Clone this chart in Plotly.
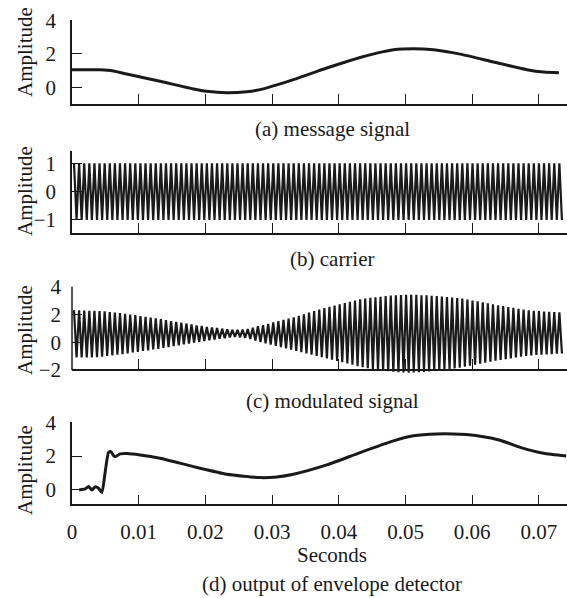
import plotly.graph_objects as go

# ---------------- data ----------------
# (a) message signal
msg_t = [0.0000, 0.0020, 0.0042, 0.0062, 0.0082, 0.0132, 0.0182, 0.0202, 0.0232, 0.0262,
         0.0282, 0.0332, 0.0382, 0.0432, 0.0457, 0.0482, 0.0512, 0.0542, 0.0582, 0.0632,
         0.0682, 0.0707, 0.0730]
msg_v = [1.05, 1.05, 1.04, 0.97, 0.79, 0.36, -0.10, -0.24, -0.33, -0.27,
         -0.14, 0.46, 1.15, 1.78, 2.04, 2.24, 2.30, 2.24, 1.98, 1.51,
         1.05, 0.91, 0.87]

# carrier / modulated: peak timing
peak_t0 = 0.0003          # first crest
peak_half = 0.000383      # crest-to-trough spacing

carrier_upper = [1] * 96
carrier_lower = [-1] * 96

mod_upper = [2.31, 2.30, 2.29, 2.27, 2.26, 2.24, 2.22, 2.18, 2.14, 2.10,
             2.05, 2.00, 1.95, 1.89, 1.83, 1.77, 1.72, 1.66, 1.60, 1.53,
             1.47, 1.41, 1.35, 1.28, 1.22, 1.17, 1.11, 1.06, 1.02, 0.98,
             0.94, 0.90, 0.89, 0.91, 0.96, 1.05, 1.15, 1.24, 1.33, 1.43,
             1.52, 1.61, 1.70, 1.80, 1.91, 2.02, 2.13, 2.24, 2.35, 2.46,
             2.55, 2.65, 2.74, 2.83, 2.92, 3.01, 3.10, 3.15, 3.20, 3.24,
             3.28, 3.32, 3.36, 3.38, 3.40, 3.41, 3.41, 3.41, 3.39, 3.38,
             3.35, 3.32, 3.29, 3.25, 3.22, 3.18, 3.14, 3.08, 3.01, 2.95,
             2.88, 2.81, 2.74, 2.67, 2.61, 2.54, 2.48, 2.41, 2.35, 2.30,
             2.27, 2.24, 2.21, 2.19, 2.17, 2.15]
mod_lower = [-1.10, -1.10, -1.10, -1.10, -1.08, -1.03, -0.98, -0.94, -0.89, -0.85,
             -0.80, -0.74, -0.69, -0.63, -0.58, -0.52, -0.47, -0.41, -0.35, -0.28,
             -0.22, -0.15, -0.09, -0.02, 0.04, 0.09, 0.15, 0.20, 0.25, 0.30,
             0.35, 0.38, 0.36, 0.32, 0.24, 0.13, 0.01, -0.08, -0.17, -0.26,
             -0.35, -0.44, -0.53, -0.62, -0.71, -0.80, -0.89, -0.98, -1.08, -1.17,
             -1.26, -1.35, -1.44, -1.53, -1.62, -1.72, -1.80, -1.86, -1.92, -1.97,
             -2.03, -2.08, -2.12, -2.15, -2.17, -2.19, -2.18, -2.16, -2.13, -2.10,
             -2.06, -2.02, -1.97, -1.93, -1.88, -1.83, -1.76, -1.68, -1.61, -1.54,
             -1.47, -1.40, -1.33, -1.28, -1.22, -1.16, -1.10, -1.04, -0.99, -0.95,
             -0.92, -0.89, -0.87, -0.85, -0.83, -0.81]

# (d) output of envelope detector
env_t = [0.00108, 0.00198, 0.00248, 0.00298, 0.00348, 0.00398, 0.00448, 0.00498, 0.00548,
         0.00583, 0.00623, 0.00648, 0.00723, 0.00823, 0.0102, 0.0132, 0.0182, 0.0232,
         0.0282, 0.0307, 0.0332, 0.0382, 0.0432, 0.0482, 0.0512, 0.0547, 0.0582,
         0.0612, 0.0642, 0.0672, 0.0707, 0.0741]
env_v = [0.00, 0.06, 0.20, 0.00, 0.18, 0.10, -0.16, 1.08, 2.23,
         2.27, 2.03, 1.97, 2.13, 2.15, 2.07, 1.87, 1.38, 0.93,
         0.73, 0.77, 0.93, 1.48, 2.21, 2.90, 3.20, 3.31, 3.29,
         3.18, 2.94, 2.52, 2.17, 2.01]

x_tickvals = [0, 0.01, 0.02, 0.03, 0.04, 0.05, 0.06, 0.07]
x_ticktext = ["0", "0.01", "0.02", "0.03", "0.04", "0.05", "0.06", "0.07"]

captions = ["(a) message signal", "(b) carrier", "(c) modulated signal",
            "(d) output of envelope detector"]


def zigzag(uppers, lowers):
    t, v = [], []
    for j, (u, l) in enumerate(zip(uppers, lowers)):
        t.append(peak_t0 + 2 * j * peak_half)
        v.append(u)
        t.append(peak_t0 + (2 * j + 1) * peak_half)
        v.append(l)
    return t, v


car_t, car_v = zigzag(carrier_upper, carrier_lower)
mod_t, mod_v = zigzag(mod_upper, mod_lower)

# ---------------- layout geometry ----------------
W, H = 567, 598
L = 72
FONT = "Liberation Serif"
INK = "#1a1a1a"
FS = 21


def py(pix):
    return 1 - pix / H


XR = [0, (W - L) / 6670.0]

fig = go.Figure()
fig.add_trace(go.Scatter(x=msg_t, y=msg_v, mode="lines", line=dict(color=INK, width=3, shape="spline", smoothing=0.6),
                         xaxis="x", yaxis="y", showlegend=False))
fig.add_trace(go.Scatter(x=car_t, y=car_v, mode="lines", line=dict(color=INK, width=2.2),
                         xaxis="x2", yaxis="y2", showlegend=False))
fig.add_trace(go.Scatter(x=mod_t, y=mod_v, mode="lines", line=dict(color=INK, width=2.2),
                         xaxis="x3", yaxis="y3", showlegend=False))
fig.add_trace(go.Scatter(x=env_t, y=env_v, mode="lines", line=dict(color=INK, width=3, shape="spline", smoothing=0.5),
                         xaxis="x4", yaxis="y4", showlegend=False))

tickfont = dict(family=FONT, size=FS, color=INK)


def xax(anchor, labels=False, free_pos=None):
    d = dict(domain=[0, 1], range=XR, showline=True, linecolor=INK, linewidth=1.5,
             ticks="inside", ticklen=10, tickwidth=1, tickcolor=INK,
             tickvals=x_tickvals, ticktext=x_ticktext, showticklabels=labels,
             showgrid=False, zeroline=False, tickfont=tickfont, ticklabelstandoff=8,
             automargin=False, ticklabeloverflow="allow")
    if free_pos is None:
        d["anchor"] = anchor
    else:
        d["anchor"] = "free"
        d["position"] = free_pos
    return d


def yax(anchor, dom, rng, tv, showline=True):
    return dict(domain=dom, range=rng, anchor=anchor, showline=showline, linecolor=INK, linewidth=1.5,
                ticks="inside", ticklen=10, tickwidth=1, tickcolor=INK, tickvals=tv,
                showgrid=False, zeroline=False, tickfont=tickfont, ticklabelstandoff=10,
                automargin=False, ticklabeloverflow="allow")


# pixel extents of each panel (bottom, top)
dom_a = [py(104), py(20.3)]
dom_b = [py(232.7), py(150.7)]
dom_c = [py(377), py(286.7)]
dom_d = [py(504.3), py(422.3)]

c_axis_pos = py(370)

fig.update_layout(
    template="none",
    width=W, height=H,
    margin=dict(l=L, r=0, t=0, b=0, autoexpand=False),
    paper_bgcolor="white", plot_bgcolor="rgba(0,0,0,0)",
    font=dict(family=FONT, size=FS, color=INK),
    hovermode=False,
    xaxis=xax("y"),
    xaxis2=xax("y2"),
    xaxis3=xax("y3", free_pos=c_axis_pos),
    xaxis4=xax("y4", labels=True),
    yaxis=yax("x", dom_a, [-1.0, 4], [0, 2, 4]),
    yaxis2=yax("x2", dom_b, [-1.45, 1.45], [-1, 0, 1]),
    yaxis3=yax("x3", dom_c, [-2.5, 4], [-2, 0, 2, 4], showline=False),
    yaxis4=yax("x4", dom_d, [-0.85, 4], [0, 2, 4]),
)

# y-axis line of panel (c), stopping at its x-axis
fig.add_shape(type="line", xref="paper", yref="paper", x0=0, x1=0,
              y0=c_axis_pos, y1=dom_c[1], line=dict(color=INK, width=1.5))


def px_to_paper_x(pix):
    return (pix - L) / (W - L)


ann = []
for ypix in [52, 191, 330, 470]:
    ann.append(dict(text="Amplitude", xref="paper", yref="paper", x=px_to_paper_x(25), y=py(ypix),
                    textangle=-90, showarrow=False, xanchor="center", yanchor="middle",
                    font=dict(family=FONT, size=FS, color=INK)))
for cap, ypix in zip(captions, [129, 259, 401, 584]):
    ann.append(dict(text=cap, xref="paper", yref="paper", x=px_to_paper_x(332), y=py(ypix),
                    showarrow=False, xanchor="center", yanchor="middle",
                    font=dict(family=FONT, size=FS, color=INK)))
ann.append(dict(text="Seconds", xref="paper", yref="paper", x=px_to_paper_x(332), y=py(555),
                showarrow=False, xanchor="center", yanchor="middle",
                font=dict(family=FONT, size=FS, color=INK)))
fig.update_layout(annotations=ann)

fig.write_html("out.html", config={"displayModeBar": False},
               post_script="document.body.style.margin='0';document.body.style.overflow='hidden';")
